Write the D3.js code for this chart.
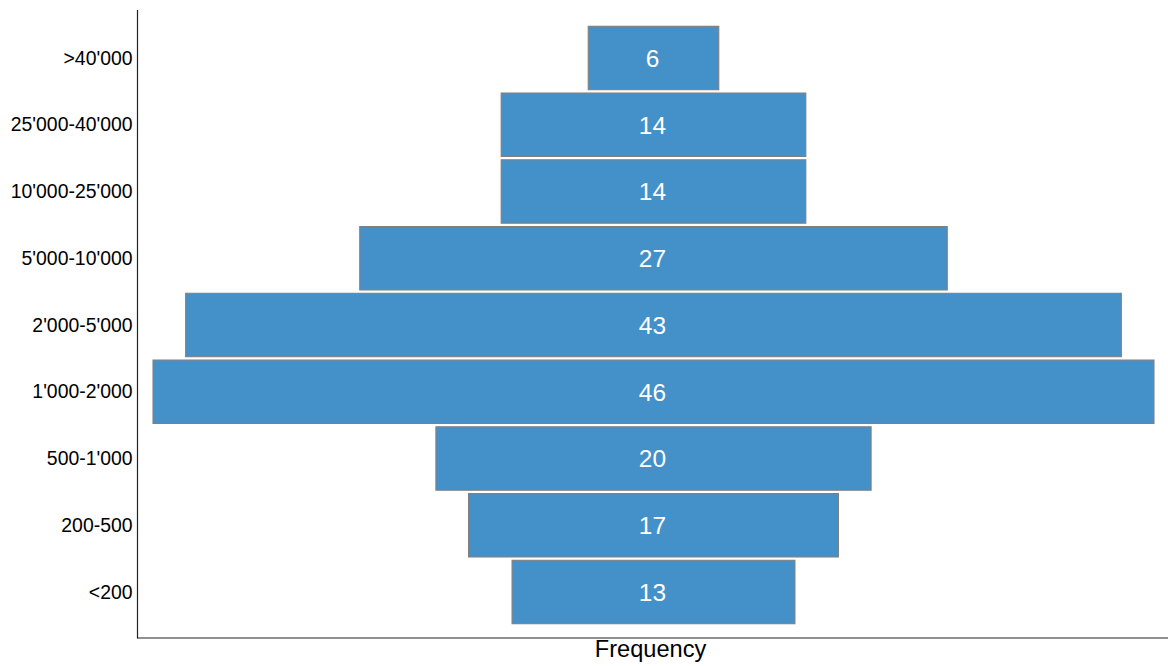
<!DOCTYPE html>
<html><head><meta charset="utf-8">
<script src="https://cdn.jsdelivr.net/npm/d3@7"></script>
<style>body{margin:0;background:#fff}svg{display:block}</style>
</head><body>
<svg id="c" width="1168" height="666"></svg>
<script>
const categories = ["<200","200-500","500-1'000","1'000-2'000","2'000-5'000","5'000-10'000","10'000-25'000","25'000-40'000",">40'000"];
const frequencies = [13,17,20,46,43,27,14,14,6];
const xTitle = "Frequency";

(function(){
const pL=137.5, pR=1168, pT=10, pB=638;
const svg=d3.select("#c");
const font="Liberation Sans, Arial, sans-serif";

const x=d3.scaleLinear().domain([-23.69,23.69]).range([pL+0.5,pR+1]);
const y=d3.scalePoint().domain(categories.slice().reverse()).range([pT+1,pB+1]).padding(0.704);
const bh=y.step()*0.95;

const data=categories.map((c,i)=>({c,v:frequencies[i]}));

svg.selectAll("rect.bar").data(data).enter().append("rect")
 .attr("class","bar")
 .attr("x",d=>x(-d.v/2)).attr("width",d=>x(d.v/2)-x(-d.v/2))
 .attr("y",d=>y(d.c)-bh/2).attr("height",bh)
 .attr("fill","#4490c9").attr("stroke","#808080").attr("stroke-width",1.1);

svg.selectAll("text.val").data(data).enter().append("text")
 .attr("class","val")
 .attr("x",x(0)-1).attr("y",d=>y(d.c)).attr("dy","0.36em")
 .attr("text-anchor","middle").attr("fill","#fff")
 .attr("font-family",font).attr("font-size",24.5).text(d=>d.v);

const yAxis=d3.axisLeft(y).tickSize(0).tickPadding(5);
const ga=svg.append("g").attr("transform",`translate(${pL},0)`).call(yAxis);
ga.select(".domain").remove();
ga.selectAll("text").attr("font-family",font).attr("font-size",19.4).attr("fill","#000");

svg.append("line").attr("x1",pL).attr("x2",pL).attr("y1",pT).attr("y2",pB+0.5).attr("stroke","#222").attr("stroke-width",1.2);
svg.append("line").attr("x1",pL).attr("x2",pR).attr("y1",pB).attr("y2",pB).attr("stroke","#222").attr("stroke-width",1.2);

svg.append("text").attr("x",650.5).attr("y",656.5).attr("text-anchor","middle")
 .attr("font-family",font).attr("font-size",23.6).attr("fill","#000").text(xTitle);
})();
</script>
</body></html>
